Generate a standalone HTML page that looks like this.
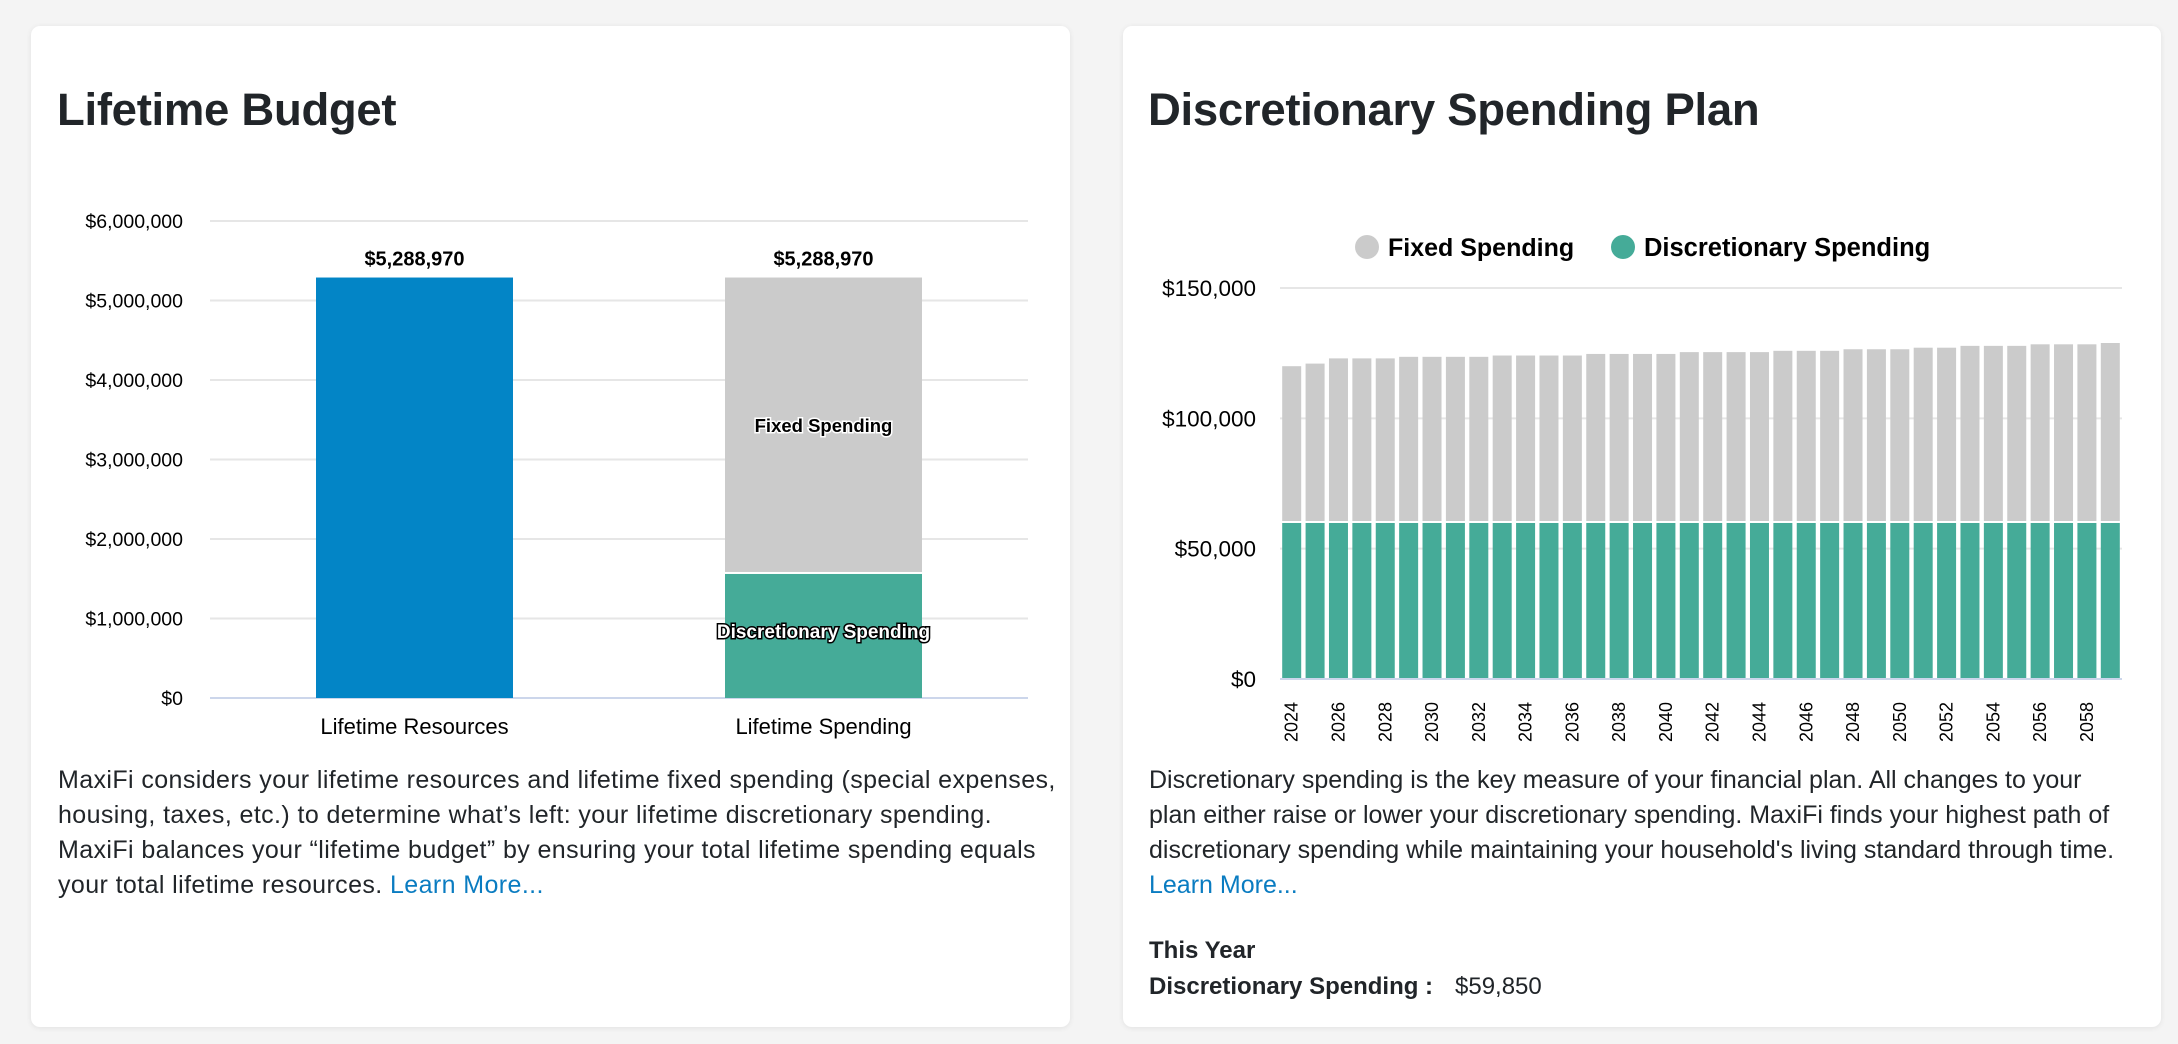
<!DOCTYPE html>
<html><head><meta charset="utf-8">
<style>
body{margin:0;width:2178px;height:1044px;background:#f4f4f4;font-family:"Liberation Sans",sans-serif;color:#212529;position:relative;overflow:hidden}
.card{position:absolute;top:26px;height:1001px;background:#fff;border-radius:9px;box-shadow:0 1px 6px rgba(0,0,0,0.08)}
.title{position:absolute;font-size:45.5px;font-weight:bold;top:84px;margin:0;letter-spacing:-0.3px}
.para{position:absolute;font-size:25px;line-height:35px;white-space:nowrap}
a{color:#0a7cc1;text-decoration:none}
svg text{font-family:"Liberation Sans",sans-serif}
</style></head><body>
<div class="card" style="left:31px;width:1039px"></div>
<div class="card" style="left:1123px;width:1038px"></div>
<h2 class="title" style="left:57px">Lifetime Budget</h2>
<h2 class="title" style="left:1148px">Discretionary Spending Plan</h2>
<svg id="chart" width="2178" height="1044" style="position:absolute;left:0;top:0"></svg>
<div class="para" style="left:58px;top:763px;letter-spacing:0.4px">MaxiFi considers your lifetime resources and lifetime fixed spending (special expenses,<br>housing, taxes, etc.) to determine what’s left: your lifetime discretionary spending.<br>MaxiFi balances your “lifetime budget” by ensuring your total lifetime spending equals<br>your total lifetime resources. <a href="#">Learn More...</a></div>
<div class="para" style="left:1149px;top:763px">Discretionary spending is the key measure of your financial plan. All changes to your<br>plan either raise or lower your discretionary spending. MaxiFi finds your highest path of<br>discretionary spending while maintaining your household's living standard through time.<br><a href="#">Learn More...</a></div>
<div class="para" style="left:1149px;top:933px;font-weight:bold;font-size:24px">This Year</div>
<div class="para" style="left:1149px;top:969px;font-size:24px"><b>Discretionary Spending :</b><span style="position:absolute;left:306px">$59,850</span></div>
<script>
const leftCats=["Lifetime Resources","Lifetime Spending"];
const leftResources=[5288970,0];
const leftDiscretionary=[0,1560000];
const leftFixed=[0,3728970];
const leftTotals=["$5,288,970","$5,288,970"];
const leftTicks=[0,1000000,2000000,3000000,4000000,5000000,6000000];
const leftTickLabels=["$0","$1,000,000","$2,000,000","$3,000,000","$4,000,000","$5,000,000","$6,000,000"];

const years=[];for(let y=2024;y<=2059;y++)years.push(y);
const discretionary=[59850,59850,59850,59850,59850,59850,59850,59850,59850,59850,59850,59850,59850,59850,59850,59850,59850,59850,59850,59850,59850,59850,59850,59850,59850,59850,59850,59850,59850,59850,59850,59850,59850,59850,59850,59850];
const totalSpending=[120000,121000,123000,123000,123000,123600,123600,123600,123600,124100,124100,124100,124100,124700,124700,124700,124700,125400,125400,125400,125400,125900,125900,125900,126500,126500,126500,127100,127100,127800,127800,127800,128400,128400,128400,128900];
const rightTicks=[0,50000,100000,150000];
const rightTickLabels=["$0","$50,000","$100,000","$150,000"];

const svg=document.getElementById('chart');
const NS="http://www.w3.org/2000/svg";
function mk(tag,attrs,parent){const e=document.createElementNS(NS,tag);for(const k in attrs)e.setAttribute(k,attrs[k]);(parent||svg).appendChild(e);return e;}

// left chart
const L={x0:210,x1:1028,y0:698,yTop:221,max:6000000};
const ly=v=>L.y0-(v/L.max)*(L.y0-L.yTop);
const slotL=(L.x1-L.x0)/leftCats.length;
const lx=i=>L.x0+slotL*(i+0.5);
leftTicks.forEach((t,i)=>{
  const g=mk('line',{x1:L.x0,x2:L.x1,y1:ly(t),y2:ly(t),stroke:i===0?'#ccd6eb':'#e6e6e6','stroke-width':2});
  
  
  const tx=mk('text',{x:183,y:ly(t)+7,'text-anchor':'end','font-size':19.5,fill:'#000'});
  tx.textContent=leftTickLabels[i];
  
  
});
const bwL=197;
leftCats.forEach((c,i)=>{
  const cx=lx(i);
  if(leftResources[i]>0){
    const r=mk('rect',{x:cx-bwL/2,y:ly(leftResources[i]),width:bwL,height:L.y0-ly(leftResources[i]),fill:'#0385c6'});
    
    
  }
  if(leftDiscretionary[i]>0){
    const d=leftDiscretionary[i],f=leftFixed[i];
    const r1=mk('rect',{x:cx-bwL/2,y:ly(d),width:bwL,height:L.y0-ly(d),fill:'#45ab98'});
    
    
    const r2=mk('rect',{x:cx-bwL/2,y:ly(d+f),width:bwL,height:ly(d)-ly(d+f)-2,fill:'#cbcbcb'});
    
    
    const t1=mk('text',{x:cx,y:(ly(d+f)+ly(d))/2+6,'text-anchor':'middle','font-size':18.5,'font-weight':'bold',fill:'#000',stroke:'#fff','stroke-width':3,'paint-order':'stroke'});
    t1.textContent='Fixed Spending';
    
    
    const t2=mk('text',{x:cx,y:(ly(d)+L.y0)/2+2,'text-anchor':'middle','font-size':19,'font-weight':'bold',fill:'#fff',stroke:'#000','stroke-width':3,'paint-order':'stroke'});
    t2.textContent='Discretionary Spending';
    
    
  }
  const tot=leftResources[i]+leftDiscretionary[i]+leftFixed[i];
  const vt=mk('text',{x:cx,y:ly(tot)-12,'text-anchor':'middle','font-size':20,'font-weight':'bold',fill:'#000'});
  vt.textContent=leftTotals[i];
  
  
  const ct=mk('text',{x:cx,y:734,'text-anchor':'middle','font-size':22,fill:'#000'});
  ct.textContent=c;
  
  
});

// right chart
const R={x0:1280,x1:2122,y0:679,yTop:288,max:150000};
const ry=v=>R.y0-(v/R.max)*(R.y0-R.yTop);
const slotR=(R.x1-R.x0)/years.length;
const rx=i=>R.x0+slotR*(i+0.5);
rightTicks.forEach((t,i)=>{
  const g=mk('line',{x1:R.x0,x2:R.x1,y1:ry(t),y2:ry(t),stroke:i===0?'#ccd6eb':'#e6e6e6','stroke-width':2});
  
  
  const tx=mk('text',{x:1256,y:ry(t)+8,'text-anchor':'end','font-size':22.5,fill:'#000'});
  tx.textContent=rightTickLabels[i];
  
  
});
const bwR=19;
years.forEach((yr,i)=>{
  const cx=rx(i),d=discretionary[i],tot=totalSpending[i];
  const r1=mk('rect',{x:cx-bwR/2,y:ry(d),width:bwR,height:R.y0-ry(d)-1,fill:'#45ab98'});
  
  
  const r2=mk('rect',{x:cx-bwR/2,y:ry(tot),width:bwR,height:ry(d)-ry(tot)-2,fill:'#cbcbcb'});
  
  
  if(i%2===0){
    const t=mk('text',{x:0,y:0,'text-anchor':'end','font-size':18,fill:'#000',transform:'translate('+(cx+6)+',702) rotate(-90)'});
    t.textContent=yr;
    
    
  }
});
// legend
const lg1=mk('circle',{cx:1367,cy:247,r:12,fill:'#cbcbcb'});


const lt1=mk('text',{x:1388,y:256,'font-size':25,'font-weight':'bold',fill:'#000'});
lt1.textContent='Fixed Spending';


const lg2=mk('circle',{cx:1623,cy:247,r:12,fill:'#45ab98'});


const lt2=mk('text',{x:1644,y:256,'font-size':25.5,'font-weight':'bold',fill:'#000'});
lt2.textContent='Discretionary Spending';


</script>
</body></html>
